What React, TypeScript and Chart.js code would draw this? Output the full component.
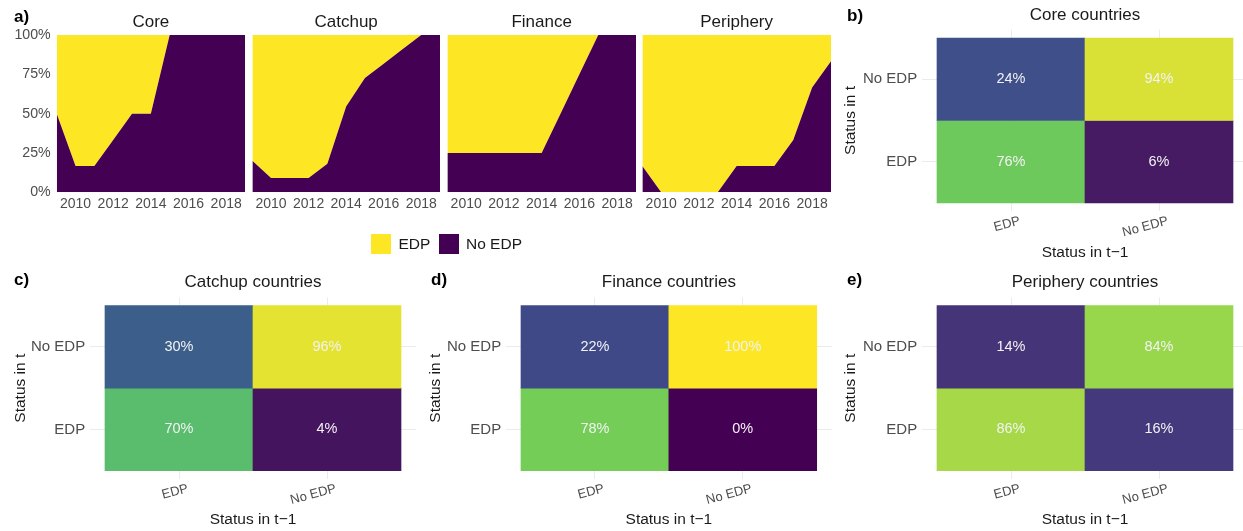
import React, { useEffect, useRef } from 'react';
import { Chart, registerables } from 'chart.js';

Chart.register(...registerables);

const FONT = "'Liberation Sans', Arial, Helvetica, sans-serif";
Chart.defaults.font.family = FONT;

// ---------------- data ----------------
const years = [2009, 2010, 2011, 2012, 2013, 2014, 2015, 2016, 2017, 2018, 2019];
const yearTicks = [2010, 2012, 2014, 2016, 2018];
const shareTicks = [0, 25, 50, 75, 100];
const groupNames = ['Core', 'Catchup', 'Finance', 'Periphery'];

// share of countries with no EDP (%), the rest is EDP
const coreNoEdp = [50, 16.7, 16.7, 33.3, 50, 50, 100, 100, 100, 100, 100];
const catchupNoEdp = [20, 9.1, 9.1, 9.1, 18.2, 54.5, 72.7, 81.8, 90.9, 100, 100];
const financeNoEdp = [25, 25, 25, 25, 25, 25, 50, 75, 100, 100, 100];
const peripheryNoEdp = [16.7, 0, 0, 0, 0, 16.7, 16.7, 16.7, 33.3, 66.7, 83.3];

const statusLabels = ['EDP', 'No EDP'];
// transition shares (%): rows = status in t (EDP, No EDP), columns = status in t-1 (EDP, No EDP)
const coreTransitions = [[76, 6], [24, 94]];
const catchupTransitions = [[70, 4], [30, 96]];
const financeTransitions = [[78, 0], [22, 100]];
const peripheryTransitions = [[86, 16], [14, 84]];

const YELLOW = '#FDE725';
const PURPLE = '#440154';
const TICK_COLOR = '#4d4d4d';
const TEXT_COLOR = '#1a1a1a';

// viridis (6 stops, Lab interpolation like ggplot)
const viridisStops = ['#440154', '#414487', '#2A788E', '#22A884', '#7AD151', '#FDE725'];
function hexToRgb(h: string) {
  return [parseInt(h.slice(1, 3), 16), parseInt(h.slice(3, 5), 16), parseInt(h.slice(5, 7), 16)];
}
function s2l(c: number) { c /= 255; return c <= 0.04045 ? c / 12.92 : Math.pow((c + 0.055) / 1.055, 2.4); }
function l2s(c: number) {
  const v = c <= 0.0031308 ? 12.92 * c : 1.055 * Math.pow(c, 1 / 2.4) - 0.055;
  return Math.round(Math.max(0, Math.min(1, v)) * 255);
}
function rgbToLab(rgb: number[]) {
  const R = s2l(rgb[0]), G = s2l(rgb[1]), B = s2l(rgb[2]);
  const X = (0.4124 * R + 0.3576 * G + 0.1805 * B) / 0.95047;
  const Y = 0.2126 * R + 0.7152 * G + 0.0722 * B;
  const Z = (0.0193 * R + 0.1192 * G + 0.9505 * B) / 1.08883;
  const f = (t: number) => (t > 0.008856 ? Math.cbrt(t) : 7.787 * t + 16 / 116);
  const fx = f(X), fy = f(Y), fz = f(Z);
  return [116 * fy - 16, 500 * (fx - fy), 200 * (fy - fz)];
}
function labToRgb(lab: number[]) {
  const fy = (lab[0] + 16) / 116, fx = fy + lab[1] / 500, fz = fy - lab[2] / 200;
  const inv = (t: number) => (t * t * t > 0.008856 ? t * t * t : (t - 16 / 116) / 7.787);
  const X = inv(fx) * 0.95047, Y = inv(fy), Z = inv(fz) * 1.08883;
  const R = 3.2406 * X - 1.5372 * Y - 0.4986 * Z;
  const G = -0.9689 * X + 1.8758 * Y + 0.0415 * Z;
  const B = 0.0557 * X - 0.204 * Y + 1.057 * Z;
  return [l2s(R), l2s(G), l2s(B)];
}
const viridisLab = viridisStops.map((h) => rgbToLab(hexToRgb(h)));
function viridis(t: number) {
  const x = Math.max(0, Math.min(1, t)) * (viridisLab.length - 1);
  const i = Math.min(Math.floor(x), viridisLab.length - 2);
  const f = x - i;
  const a = viridisLab[i], b = viridisLab[i + 1];
  const rgb = labToRgb([a[0] + (b[0] - a[0]) * f, a[1] + (b[1] - a[1]) * f, a[2] + (b[2] - a[2]) * f]);
  return `rgb(${rgb[0]},${rgb[1]},${rgb[2]})`;
}

// ---------------- layout specs ----------------
type Rect = { left: number; top: number; width: number; height: number };
type Area = { l: number; r: number; t: number; b: number };

const areaSpecs: { canvas: Rect; area: Area; title: string; noEdp: number[]; showY: boolean; titleY: number }[] = [
  { canvas: { left: 0, top: 0, width: 250, height: 215 }, area: { l: 56.7, r: 245, t: 35, b: 192.3 }, title: groupNames[0], noEdp: coreNoEdp, showY: true, titleY: 22.5 },
  { canvas: { left: 246, top: 0, width: 200, height: 215 }, area: { l: 252.3, r: 440, t: 35, b: 192.3 }, title: groupNames[1], noEdp: catchupNoEdp, showY: false, titleY: 22.5 },
  { canvas: { left: 441, top: 0, width: 200, height: 215 }, area: { l: 447.3, r: 636, t: 35, b: 192.3 }, title: groupNames[2], noEdp: financeNoEdp, showY: false, titleY: 22.5 },
  { canvas: { left: 636, top: 0, width: 200, height: 215 }, area: { l: 642.3, r: 831, t: 35, b: 192.3 }, title: groupNames[3], noEdp: peripheryNoEdp, showY: false, titleY: 22.5 },
];

const heatSpecs: { canvas: Rect; area: Area; title: string; values: number[][]; titleY: number; yTitleX: number; xTitleY: number }[] = [
  { canvas: { left: 830, top: 0, width: 420, height: 265 }, area: { l: 922.2, r: 1247.8, t: 29.75, b: 211.25 }, title: 'Core countries', values: coreTransitions, titleY: 15.5, yTitleX: 851, xTitleY: 252.3 },
  { canvas: { left: 0, top: 265, width: 418, height: 266 }, area: { l: 90.2, r: 415.8, t: 297.45, b: 478.95 }, title: 'Catchup countries', values: catchupTransitions, titleY: 282.6, yTitleX: 20.7, xTitleY: 519.8 },
  { canvas: { left: 414, top: 265, width: 420, height: 266 }, area: { l: 506.2, r: 831.5, t: 297.45, b: 478.95 }, title: 'Finance countries', values: financeTransitions, titleY: 282.6, yTitleX: 436, xTitleY: 519.8 },
  { canvas: { left: 830, top: 265, width: 420, height: 266 }, area: { l: 922.2, r: 1247.8, t: 297.45, b: 478.95 }, title: 'Periphery countries', values: peripheryTransitions, titleY: 282.6, yTitleX: 851, xTitleY: 519.8 },
];

const TITLE_SIZE = 17;
const AXIS_TITLE_SIZE = 15.5;

function titleOptions(text: string, canvas: Rect, area: Area, titleY: number) {
  const lh = TITLE_SIZE * 1.2;
  const boxH = area.t - canvas.top;
  const padTop = titleY - canvas.top - lh / 2;
  const padBottom = boxH - lh - padTop;
  return {
    display: true,
    text,
    fullSize: false,
    color: TEXT_COLOR,
    font: { size: TITLE_SIZE, weight: 'normal' as const, family: FONT },
    padding: { top: padTop, bottom: padBottom },
  };
}

function areaConfig(spec: typeof areaSpecs[number]): any {
  const { canvas, area, title, noEdp, showY, titleY } = spec;
  const yW = area.l - canvas.left;
  const xH = canvas.top + canvas.height - area.b;
  return {
    type: 'line',
    data: {
      datasets: [
        {
          label: 'No EDP',
          data: years.map((yr, i) => ({ x: yr, y: noEdp[i] })),
          backgroundColor: PURPLE,
          borderColor: 'rgba(0,0,0,0)',
          borderWidth: 0,
          pointRadius: 0,
          tension: 0,
          fill: 'origin',
        },
        {
          label: 'EDP',
          data: years.map((yr, i) => ({ x: yr, y: 100 - noEdp[i] })),
          backgroundColor: YELLOW,
          borderColor: 'rgba(0,0,0,0)',
          borderWidth: 0,
          pointRadius: 0,
          tension: 0,
          fill: '-1',
        },
      ],
    },
    options: {
      responsive: false,
      animation: false,
      events: [],
      layout: { padding: { left: 0, top: 0, bottom: 0, right: canvas.left + canvas.width - area.r } },
      plugins: {
        legend: { display: false },
        tooltip: { enabled: false },
        title: titleOptions(title, canvas, area, titleY),
      },
      scales: {
        x: {
          type: 'linear',
          min: years[0],
          max: years[years.length - 1],
          grid: { display: false, drawTicks: false },
          border: { display: false },
          afterBuildTicks: (s: any) => { s.ticks = yearTicks.map((v) => ({ value: v })); },
          afterFit: (s: any) => { s.height = xH; },
          ticks: { color: TICK_COLOR, font: { size: 14 }, padding: 3, maxRotation: 0, minRotation: 0, autoSkip: false, callback: (v: any) => String(v) },
        },
        y: {
          type: 'linear',
          min: 0,
          max: 100,
          stacked: true,
          grid: { display: false, drawTicks: false },
          border: { display: false },
          afterBuildTicks: (s: any) => { s.ticks = shareTicks.map((v) => ({ value: v })); },
          afterFit: (s: any) => { s.width = yW; },
          ticks: { display: showY, color: TICK_COLOR, font: { size: 14.2 }, padding: 6, callback: (v: any) => v + '%' },
        },
      },
    },
  };
}

const cellLabelPlugin = {
  id: 'cellLabels',
  afterDatasetsDraw(chart: any) {
    const ctx = chart.ctx;
    chart.data.datasets.forEach((ds: any, di: number) => {
      const meta = chart.getDatasetMeta(di);
      meta.data.forEach((bar: any, i: number) => {
        const raw = ds.data[i];
        const p = bar.getProps(['x', 'y', 'base'], true);
        ctx.save();
        ctx.fillStyle = '#f2f2f2';
        ctx.font = `14.5px ${FONT}`;
        ctx.textAlign = 'center';
        ctx.textBaseline = 'middle';
        ctx.fillText(raw.v + '%', p.x, (p.y + p.base) / 2);
        ctx.restore();
      });
    });
  },
};

function heatConfig(spec: typeof heatSpecs[number]): any {
  const { canvas, area, title, values, titleY, yTitleX, xTitleY } = spec;
  const yW = area.l - canvas.left;
  const xH = canvas.top + canvas.height - area.b;
  const axLH = AXIS_TITLE_SIZE * 1.2;
  const yTitlePad = yTitleX - canvas.left - axLH / 2;
  const xTitlePad = canvas.top + canvas.height - xTitleY - axLH / 2;
  const cells: { x: number; y: number[]; v: number }[] = [];
  statusLabels.forEach((_r, r) => {
    statusLabels.forEach((_c, c) => {
      cells.push({ x: c + 1, y: [r + 0.5, r + 1.5], v: values[r][c] });
    });
  });
  return {
    type: 'bar',
    data: {
      datasets: [
        {
          label: title,
          data: cells,
          backgroundColor: (ctx: any) => (ctx.raw ? viridis(ctx.raw.v / 100) : '#000'),
          borderWidth: 0,
          barPercentage: 1,
          categoryPercentage: 1,
        },
      ],
    },
    options: {
      responsive: false,
      animation: false,
      events: [],
      layout: { padding: { left: 0, top: 0, bottom: 0, right: canvas.left + canvas.width - area.r } },
      plugins: {
        legend: { display: false },
        tooltip: { enabled: false },
        title: titleOptions(title, canvas, area, titleY),
      },
      scales: {
        x: {
          type: 'linear',
          min: 0.4,
          max: 2.6,
          offset: false,
          grid: { color: '#ebebeb', lineWidth: 1, drawTicks: false, offset: false },
          border: { display: false },
          afterBuildTicks: (s: any) => { s.ticks = [{ value: 1 }, { value: 2 }]; },
          afterFit: (s: any) => { s.height = xH; },
          ticks: {
            color: TICK_COLOR,
            font: { size: 13 },
            minRotation: 15,
            maxRotation: 15,
            labelOffset: 9,
            padding: 2,
            autoSkip: false,
            callback: (v: any) => statusLabels[Math.round(v) - 1],
          },
          title: { display: true, text: 'Status in t\u22121', color: TEXT_COLOR, font: { size: AXIS_TITLE_SIZE }, padding: { top: 0, bottom: xTitlePad } },
        },
        y: {
          type: 'linear',
          min: 0.4,
          max: 2.6,
          offset: false,
          grid: { color: '#ebebeb', lineWidth: 1, drawTicks: false, offset: false },
          border: { display: false },
          afterBuildTicks: (s: any) => { s.ticks = [{ value: 1 }, { value: 2 }]; },
          afterFit: (s: any) => { s.width = yW; },
          ticks: {
            color: TICK_COLOR,
            font: { size: 15 },
            padding: 5,
            autoSkip: false,
            callback: (v: any) => statusLabels[Math.round(v) - 1],
          },
          title: { display: true, text: 'Status in t', color: TEXT_COLOR, font: { size: AXIS_TITLE_SIZE }, padding: { top: yTitlePad, bottom: 0 } },
        },
      },
    },
    plugins: [cellLabelPlugin],
  };
}

const allCanvases: Rect[] = [...areaSpecs.map((s) => s.canvas), ...heatSpecs.map((s) => s.canvas)];

const panelLetters = [
  { text: 'a)', left: 14, top: 6.5 },
  { text: 'b)', left: 847, top: 6 },
  { text: 'c)', left: 14, top: 270 },
  { text: 'd)', left: 431, top: 270 },
  { text: 'e)', left: 847, top: 270 },
];

const legendItems = [
  { label: 'EDP', color: YELLOW, boxLeft: 371, textLeft: 398.5 },
  { label: 'No EDP', color: PURPLE, boxLeft: 439, textLeft: 466 },
];

export default function App() {
  const refs = useRef<(HTMLCanvasElement | null)[]>([]);

  useEffect(() => {
    const configs = [...areaSpecs.map(areaConfig), ...heatSpecs.map(heatConfig)];
    const charts = configs.map((cfg, i) => new Chart(refs.current[i] as HTMLCanvasElement, cfg));
    return () => {
      charts.forEach((c) => c.destroy());
    };
  }, []);

  return (
    <div
      style={{
        position: 'absolute',
        left: 0,
        top: 0,
        width: 1243,
        height: 531,
        overflow: 'hidden',
        background: '#ffffff',
        fontFamily: FONT,
      }}
    >
      {allCanvases.map((c, i) => (
        <canvas
          key={i}
          ref={(el) => {
            refs.current[i] = el;
          }}
          width={c.width}
          height={c.height}
          style={{ position: 'absolute', left: c.left, top: c.top, width: c.width, height: c.height }}
        />
      ))}
      {panelLetters.map((p) => (
        <div
          key={p.text}
          style={{ position: 'absolute', left: p.left, top: p.top, fontSize: 17, lineHeight: '20px', fontWeight: 'bold', color: '#000' }}
        >
          {p.text}
        </div>
      ))}
      {legendItems.map((it) => (
        <React.Fragment key={it.label}>
          <div style={{ position: 'absolute', left: it.boxLeft, top: 234, width: 20, height: 19.5, background: it.color }} />
          <div style={{ position: 'absolute', left: it.textLeft, top: 234, height: 20, lineHeight: '20px', fontSize: 15.5, color: TEXT_COLOR, whiteSpace: 'nowrap' }}>
            {it.label}
          </div>
        </React.Fragment>
      ))}
    </div>
  );
}
